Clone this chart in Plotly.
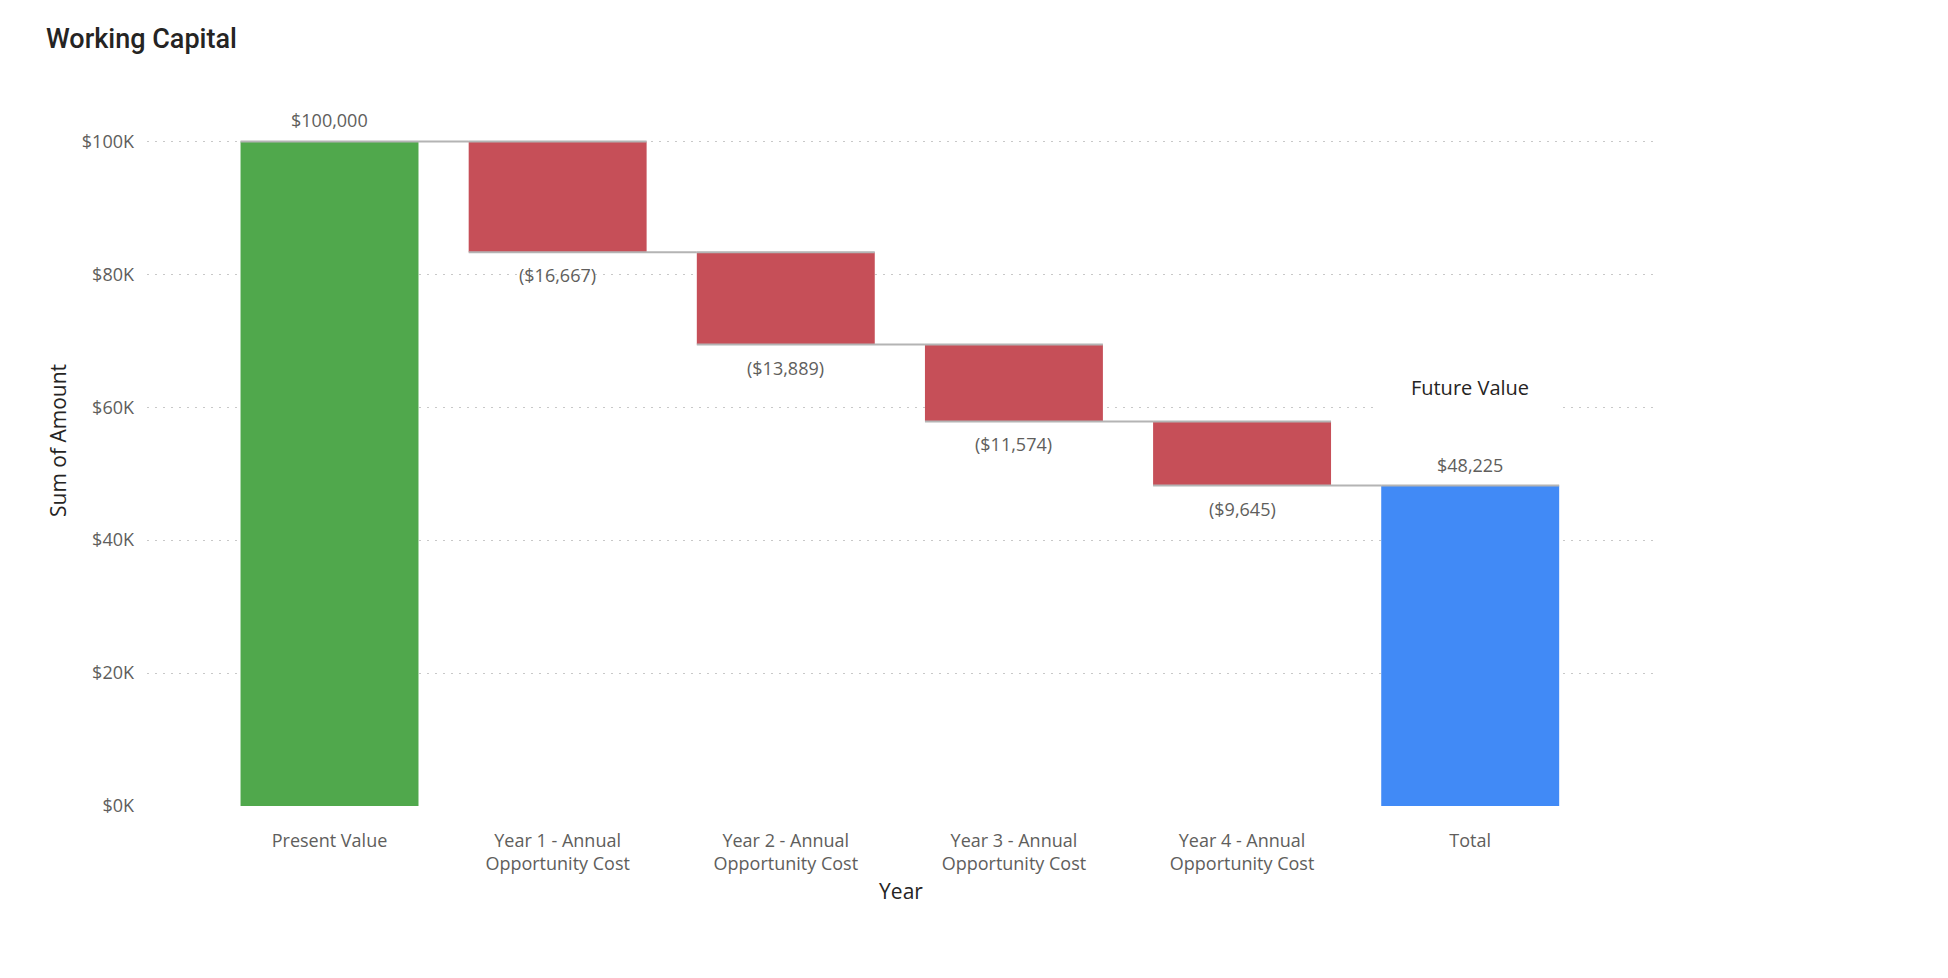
import numpy as np
import plotly.graph_objects as go

# data
categories = ["Present Value", "Year 1 - Annual<br>Opportunity Cost", "Year 2 - Annual<br>Opportunity Cost",
              "Year 3 - Annual<br>Opportunity Cost", "Year 4 - Annual<br>Opportunity Cost", "Total"]
measures = ["relative", "relative", "relative", "relative", "relative", "total"]
amounts = [100000, -16667, -13889, -11574, -9645, 48225]
y_ticks = [0, 20000, 40000, 60000, 80000, 100000]
y_ticktext = ["$0K", "$20K", "$40K", "$60K", "$80K", "$100K"]


def money(v):
    if v < 0:
        return "(${:,.0f})".format(-v)
    return "${:,.0f}".format(v)


label_gray = "#605E5C"
dark = "#252423"

fig = go.Figure(go.Waterfall(
    x=categories,
    y=amounts,
    measure=measures,
    increasing=dict(marker=dict(color="#50A84C")),
    decreasing=dict(marker=dict(color="#C64F58")),
    totals=dict(marker=dict(color="#418AF6")),
    connector=dict(mode="spanning", line=dict(color="#B4B4B4", width=2)),
    textposition="none",
    hoverinfo="skip",
))

# data labels: above bar ends for positives/totals, below for decreases
running = 0
for cat, m, v in zip(categories, measures, amounts):
    if m == "total":
        end = v
    else:
        running += v
        end = running
    fig.add_annotation(x=cat, y=end, text=money(v), showarrow=False,
                       yshift=21 if v > 0 else -23,
                       font=dict(family="Open Sans", size=18, color=label_gray))

fig.add_annotation(x=categories[-1], y=63000, text="Future Value", showarrow=False,
                   bgcolor="white", width=180, height=58,
                   font=dict(family="Open Sans", size=20, color=dark))

fig.update_layout(
    width=1948, height=978,
    margin=dict(l=139, r=301, t=67, b=180),
    paper_bgcolor="white", plot_bgcolor="white",
    waterfallgap=0.22,
    showlegend=False,
    title=dict(text="Working Capital", x=0.0195, xanchor="left", y=0.969, yanchor="middle",
               font=dict(family="Roboto", size=27, color=dark, weight=500)),
    xaxis=dict(
        range=[-0.8, 5.81],
        showgrid=False, zeroline=False, showline=False,
        tickfont=dict(family="Open Sans", size=18, color=label_gray),
        ticklabelstandoff=22,
        title=dict(text="Year", standoff=9, font=dict(family="Open Sans", size=21, color=dark)),
    ),
    yaxis=dict(
        range=[0, 110000],
        tickvals=y_ticks, ticktext=y_ticktext,
        showgrid=True, gridcolor="#C8C8C8", griddash="2px,6px", gridwidth=1,
        zeroline=False, showline=False,
        tickfont=dict(family="Open Sans", size=18, color=label_gray),
        ticklabelstandoff=12,
        title=dict(text="Sum of Amount", standoff=9, font=dict(family="Open Sans", size=21, color=dark)),
    ),
)

fig.write_html("out.html")
